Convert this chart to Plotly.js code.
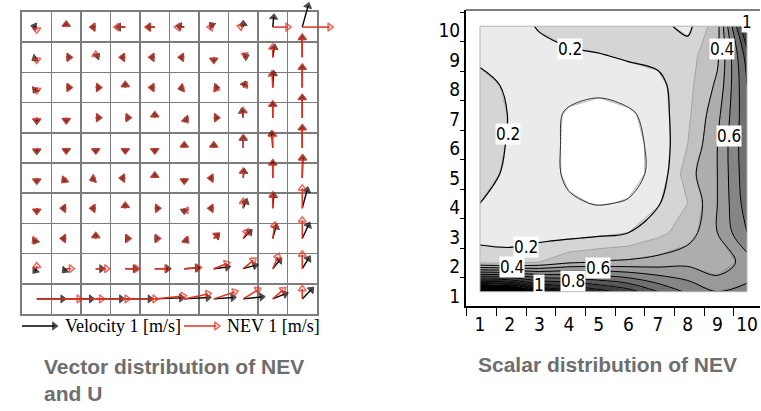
<!DOCTYPE html>
<html>
<head>
<meta charset="utf-8">
<script src="https://cdn.plot.ly/plotly-3.0.1.min.js"></script>
<style>html,body{margin:0;padding:0;background:#fff;}#chart{width:761px;height:411px;}</style>
</head>
<body>
<div id="chart"></div>
<script>
// ---------- Vector field (left): grid cells 1..10, rows listed bottom (y=1) to top (y=10), m/s ----------
const cellX = [1,2,3,4,5,6,7,8,9,10];
const cellY = [1,2,3,4,5,6,7,8,9,10];

const nevU = [
  [1.30,1.08,0.96,0.91,0.87,0.73,0.65,0.45,0.32,0.00],
  [0.00,0.15,0.33,0.35,0.37,0.43,0.40,0.31,0.16,0.00],
  [-0.06,-0.08,0.00,0.08,0.08,0.06,0.10,0.11,0.06,0.00],
  [0.00,-0.08,-0.08,0.00,0.08,0.05,-0.08,0.00,0.00,0.00],
  [0.00,-0.06,-0.08,-0.08,0.00,0.00,-0.08,0.00,0.00,0.00],
  [0.00,0.00,0.00,0.00,0.00,0.00,0.00,0.00,0.00,0.00],
  [0.00,0.00,0.08,0.08,0.00,0.05,0.08,0.00,0.00,0.00],
  [0.00,0.08,0.08,0.00,-0.08,-0.08,0.08,0.06,-0.02,0.00],
  [0.00,0.08,0.00,-0.08,-0.08,-0.08,0.00,0.06,0.00,0.00],
  [0.00,0.00,-0.08,-0.25,-0.20,-0.20,-0.10,-0.08,0.46,0.85]
];
const nevV = [
  [0.00,0.00,0.00,0.00,0.09,0.15,0.21,0.27,0.27,0.30],
  [0.08,0.00,0.00,0.00,0.00,0.03,0.15,0.25,0.36,0.43],
  [-0.06,0.00,0.08,0.00,0.00,-0.06,0.10,0.20,0.40,0.55],
  [-0.08,0.00,0.00,0.08,0.00,-0.07,0.00,0.20,0.40,0.60],
  [-0.08,-0.06,-0.03,0.00,0.08,-0.08,0.00,0.20,0.45,0.60],
  [-0.08,-0.08,-0.08,-0.08,-0.08,0.08,0.08,0.30,0.40,0.60],
  [-0.08,-0.08,0.00,0.00,0.08,-0.07,0.00,0.20,0.40,0.60],
  [-0.08,0.00,0.00,0.08,0.00,-0.02,-0.03,0.08,0.40,0.60],
  [-0.08,0.00,0.08,0.00,0.00,0.00,-0.08,0.06,0.30,0.60],
  [-0.08,0.08,0.00,0.00,0.00,0.00,0.00,0.02,0.00,0.00]
];
const velU = [
  [0.80,0.77,0.79,0.76,0.82,0.73,0.59,0.57,0.38,0.28],
  [-0.05,-0.05,0.18,0.30,0.40,0.40,0.42,0.36,0.21,0.19],
  [-0.05,-0.08,0.00,0.06,0.06,0.05,0.10,0.20,0.10,0.19],
  [0.00,-0.08,-0.08,0.00,0.08,0.00,-0.08,0.08,0.03,0.15],
  [0.00,-0.06,-0.08,-0.08,0.00,0.00,-0.08,0.02,0.00,0.02],
  [0.00,0.00,0.00,0.00,0.00,0.00,0.00,0.00,-0.03,0.00],
  [0.00,0.00,0.08,0.08,0.00,0.05,0.08,-0.03,0.00,0.00],
  [-0.05,0.08,0.08,0.00,-0.08,-0.08,0.08,0.04,0.02,0.00],
  [-0.06,0.08,0.04,-0.08,-0.08,-0.08,0.00,0.08,0.05,0.00],
  [-0.08,0.00,-0.08,-0.20,-0.18,-0.15,-0.06,0.00,0.03,0.18]
];
const velV = [
  [0.00,0.00,0.00,0.00,0.03,0.04,0.04,0.06,0.15,0.28],
  [-0.06,-0.05,0.00,0.00,0.00,0.02,0.05,0.10,0.25,0.30],
  [-0.08,0.00,0.08,0.00,0.00,-0.05,0.08,0.20,0.35,0.40],
  [-0.08,0.00,0.00,0.08,0.00,-0.08,0.00,0.20,0.38,0.55],
  [-0.08,-0.06,-0.03,0.00,0.08,-0.08,0.00,0.20,0.45,0.60],
  [-0.10,-0.08,-0.08,-0.08,-0.08,0.08,0.08,0.28,0.42,0.60],
  [-0.10,-0.08,0.00,0.00,0.08,-0.05,0.00,0.20,0.40,0.60],
  [-0.08,0.00,0.00,0.08,0.00,-0.02,0.00,0.10,0.42,0.60],
  [-0.04,0.00,0.04,0.00,0.00,0.00,-0.08,0.03,0.30,0.58],
  [0.02,0.08,0.00,0.00,0.00,0.02,0.06,0.10,0.30,0.64]
];
const legendLabels = ["Velocity 1 [m/s]", "NEV 1 [m/s]"];
const legendSpeed = 1; // m/s

// ---------- Scalar field (right) ----------
const gridX = [1,2,3,4,5,6,7,8,9,10];
const gridY = [1,2,3,4,5,6,7,8,9,10];
const nevZ = [
  [1.55,1.50,1.25,1.15,1.05,0.95,0.80,0.68,0.60,0.62],
  [0.27,0.26,0.30,0.38,0.41,0.42,0.44,0.47,0.42,0.55],
  [0.15,0.14,0.15,0.15,0.17,0.20,0.27,0.35,0.50,0.70],
  [0.20,0.16,0.14,0.11,0.095,0.105,0.19,0.30,0.50,0.75],
  [0.24,0.18,0.14,0.085,0.06,0.075,0.12,0.36,0.50,0.77],
  [0.26,0.19,0.15,0.08,0.05,0.065,0.13,0.30,0.50,0.78],
  [0.26,0.195,0.15,0.085,0.06,0.08,0.15,0.28,0.47,0.78],
  [0.23,0.185,0.16,0.14,0.13,0.16,0.17,0.27,0.42,0.80],
  [0.18,0.15,0.16,0.18,0.195,0.21,0.23,0.26,0.38,0.85],
  [0.16,0.15,0.21,0.25,0.25,0.25,0.23,0.17,0.36,1.05]
];
const contourLabelText = ["0.2","0.2","0.4","0.6","1","0.2","0.4","0.6","0.8","1"];
const contourLabelX = [4.03,1.93,9.15,9.39,10.0,2.54,2.07,4.98,4.14,2.99];
const contourLabelY = [9.23,6.33,9.24,6.28,10.15,2.53,1.85,1.80,1.37,1.23];
const tickLabels = ["1","2","3","4","5","6","7","8","9","10"];
const titles = ["Vector distribution of NEV<br>and U", "Scalar distribution of NEV"];

// ---------- build ----------
const W = 761, H = 411;
const S = 1.1; // axis units per m/s
const RED = '#e2321f';
// pixel box of the left grid, and of the (larger, unclipped) vector layer
const G = {l:22, r:317, t:12, b:314};
const Vb = {l:0, r:345, t:0, b:345};
const ux = (G.r - G.l) / 10, uy = (G.b - G.t) / 10;

function vectorTrace(U, V, color, symbol, headSize, lineW, markerLineW) {
  const x = [], y = [], size = [];
  for (let r = 0; r < cellY.length; r++) {
    for (let c = 0; c < cellX.length; c++) {
      x.push(cellX[c], cellX[c] + S * U[r][c], null);
      y.push(cellY[r], cellY[r] + S * V[r][c], null);
      size.push(0, headSize, 0);
    }
  }
  return {type:'scatter', mode:'lines+markers', x, y, xaxis:'x3', yaxis:'y3',
    cliponaxis:false, hoverinfo:'skip', showlegend:false,
    line:{color, width:lineW},
    marker:{symbol, size, color, angleref:'previous', line:{color, width:markerLineW}}};
}
const legY = 0.5 - (326 - G.b) / uy;
const legX0 = [0.5, 0.5 + (184 - G.l) / ux];
function legendTrace(i, color, symbol, markerLineW) {
  return {type:'scatter', mode:'lines+markers', xaxis:'x3', yaxis:'y3', cliponaxis:false,
    x:[legX0[i], legX0[i] + S*legendSpeed], y:[legY, legY], hoverinfo:'skip', showlegend:false,
    line:{color, width:1.3},
    marker:{symbol, size:[0,7], color, angleref:'previous', line:{color, width:markerLineW}}};
}

const bands = ['#ffffff','#ebebeb','#d5d5d5','#c1c1c1','#adadad','#999999','#858585',
               '#707070','#585858','#404040','#262626','#101010','#000000'];
const cs = bands.map((c,i)=>[i/(bands.length-1), c]);

const narrow = '"Liberation Sans Narrow", "Arial Narrow", "DejaVu Sans Condensed", "Liberation Sans", sans-serif';

const traces = [
  {type:'scatter', mode:'markers', x:[cellX[0]], y:[cellY[0]], xaxis:'x', yaxis:'y', marker:{size:0, opacity:0}, hoverinfo:'skip', showlegend:false},
  vectorTrace(velU, velV, '#000000', 'triangle-up', 7, 1.4, 1),
  vectorTrace(nevU, nevV, RED, 'triangle-up-open', 7, 1.5, 1.6),
  legendTrace(0, '#000000', 'triangle-up', 1),
  legendTrace(1, RED, 'triangle-up-open', 1.6),
  {type:'contour', x:gridX, y:gridY, z:nevZ, xaxis:'x2', yaxis:'y2',
   autocontour:false, contours:{coloring:'fill', start:0.1, end:1.2, size:0.1, showlines:true},
   colorscale:cs, showscale:false, line:{color:'#8c8c8c', width:0.6, smoothing:0}, hoverinfo:'skip'},
  {type:'contour', x:gridX, y:gridY, z:nevZ, xaxis:'x2', yaxis:'y2',
   autocontour:false, contours:{coloring:'none', start:0.1, end:0.1, size:0.1},
   showscale:false, line:{color:'#333333', width:1}, hoverinfo:'skip'},
  {type:'contour', x:gridX, y:gridY, z:nevZ, xaxis:'x2', yaxis:'y2',
   autocontour:false, contours:{coloring:'none', start:0.2, end:0.2, size:0.1},
   showscale:false, line:{color:'#000000', width:1.2}, hoverinfo:'skip'},
  {type:'contour', x:gridX, y:gridY, z:nevZ, xaxis:'x2', yaxis:'y2',
   autocontour:false, contours:{coloring:'none', start:0.4, end:1.2, size:0.1},
   showscale:false, line:{color:'#000000', width:1}, hoverinfo:'skip'}
];

const annotations = [];
contourLabelText.forEach((t,i)=>annotations.push({xref:'x2', yref:'y2', x:contourLabelX[i], y:contourLabelY[i],
  text:t, showarrow:false, bgcolor:'#ffffff', borderpad:0,
  font:{family:narrow, size:17, color:'#000'}}));
const serif = '"Liberation Serif", "Times New Roman", serif';
annotations.push({xref:'x3', yref:'y3', x:0.5 + (63 - G.l) / ux, y:legY, xanchor:'left', yanchor:'middle',
  text:legendLabels[0], showarrow:false, font:{family:serif, size:18, color:'#000'}});
annotations.push({xref:'x3', yref:'y3', x:0.5 + (225 - G.l) / ux, y:legY, xanchor:'left', yanchor:'middle',
  text:legendLabels[1], showarrow:false, font:{family:serif, size:18, color:'#000'}});
const titleFont = {family:'"Liberation Sans", Arial, sans-serif', size:21, color:'#6e6e6e'};
annotations.push({xref:'paper', yref:'paper', x:42/W, y:(H-380)/H, xanchor:'left', yanchor:'middle', align:'left', showarrow:false, text:'<b>'+titles[0]+'</b>', font:titleFont});
annotations.push({xref:'paper', yref:'paper', x:476/W, y:(H-364)/H, xanchor:'left', yanchor:'middle', showarrow:false, text:'<b>'+titles[1]+'</b>', font:titleFont});

const gridAxis = {range:[0.5,10.5], tick0:0.5, dtick:1, showgrid:true,
    gridcolor:'#7d7d7d', gridwidth:1.5, zeroline:false, showticklabels:false, ticks:'',
    showline:true, mirror:true, linecolor:'#7d7d7d', linewidth:2, fixedrange:true};
const hiddenAxis = {showgrid:false, zeroline:false, showticklabels:false, ticks:'', showline:false, fixedrange:true};

const layout = {
  width:W, height:H, margin:{l:0,r:0,t:0,b:0}, paper_bgcolor:'#fff', plot_bgcolor:'rgba(0,0,0,0)',
  showlegend:false,
  xaxis:Object.assign({domain:[G.l/W, G.r/W], anchor:'y'}, gridAxis),
  yaxis:Object.assign({domain:[(H-G.b)/H, (H-G.t)/H], anchor:'x'}, gridAxis),
  xaxis3:Object.assign({domain:[Vb.l/W, Vb.r/W], anchor:'y3',
    range:[0.5 - (G.l - Vb.l)/ux, 10.5 + (Vb.r - G.r)/ux]}, hiddenAxis),
  yaxis3:Object.assign({domain:[(H-Vb.b)/H, (H-Vb.t)/H], anchor:'x3',
    range:[0.5 - (Vb.b - G.b)/uy, 10.5 + (G.t - Vb.t)/uy]}, hiddenAxis),
  xaxis2:{domain:[466/W, 760/W], range:[0.528,10.437], anchor:'y2', showgrid:false, zeroline:false,
    showline:true, linecolor:'#000', linewidth:2,
    tickmode:'array', tickvals:gridX, ticktext:tickLabels, ticks:'',
    minor:{tickmode:'array', tickvals:gridX.map(v=>v-0.44), ticks:'outside', ticklen:8, tickcolor:'#000', tickwidth:1},
    tickfont:{family:narrow, size:19, color:'#000'}},
  yaxis2:{domain:[105/H, 401/H], range:[0.515,10.55], anchor:'x2', showgrid:false, zeroline:false,
    showline:true, linecolor:'#000', linewidth:2,
    tickmode:'array', tickvals:gridY.map(v=>v-0.15), ticktext:tickLabels, ticks:'',
    minor:{tickmode:'array', tickvals:gridY.map(v=>v+0.47), ticks:'outside', ticklen:4, tickcolor:'#000', tickwidth:1},
    tickfont:{family:narrow, size:19, color:'#000'}},
  shapes:[
    {type:'line', xref:'x2 domain', yref:'y2 domain', x0:0, x1:1, y0:1, y1:1, line:{color:'#000', width:1}},
    {type:'rect', xref:'x2', yref:'y2', x0:Math.min(...gridX), x1:Math.max(...gridX), y0:Math.min(...gridY), y1:Math.max(...gridY),
     line:{color:'#b5b5b5', width:1}, layer:'above'}
  ],
  annotations
};
Plotly.newPlot('chart', traces, layout, {staticPlot:true, displayModeBar:false});
</script>
</body>
</html>
